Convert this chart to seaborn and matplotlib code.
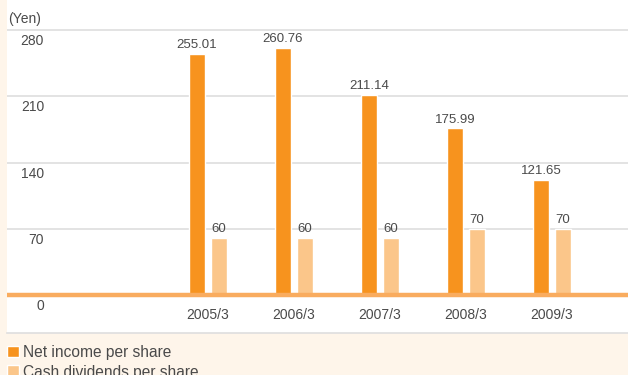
import matplotlib
matplotlib.use("Agg")
import matplotlib.pyplot as plt
import matplotlib.transforms as mtransforms
from matplotlib.patches import Patch
import pandas as pd
import seaborn as sns

# Per-share figures by fiscal year (Yen)
years = ["2005/3", "2006/3", "2007/3", "2008/3", "2009/3"]
net_income = [255.01, 260.76, 211.14, 175.99, 121.65]
dividends = [60, 60, 60, 70, 70]
series_names = ["Net income per share", "Cash dividends per share"]
y_ticks = [0, 70, 140, 210, 280]

ORANGE = "#F7931E"
LIGHT = "#FBC68A"
BASE = "#F9AC5F"
CREAM = "#FEF5EA"
GRID = "#DEDEDE"
TEXT = "#4A4A4A"

df = pd.DataFrame({
    "year": years * 2,
    "value": net_income + dividends,
    "series": [series_names[0]] * len(years) + [series_names[1]] * len(years),
})

sns.set_style("white")
plt.rcParams["font.family"] = ["Liberation Sans", "DejaVu Sans"]

W, H = 628, 375
fig = plt.figure(figsize=(W / 100, H / 100), dpi=100, facecolor=CREAM)

# white chart panel
left_px, bottom_px = 7, 333
ax = fig.add_axes([left_px / W, (H - bottom_px) / H, (W - left_px) / W, bottom_px / H])
ax.set_facecolor("white")

sns.barplot(data=df, x="year", y="value", hue="series", order=years,
            hue_order=series_names, palette=[ORANGE, LIGHT],
            width=0.51, gap=0.27, saturation=1, ax=ax, legend=False)

# pixel geometry: 280 at y=30px, 0 at y=295px
px_per_unit = (295 - 30) / 280
ax.set_ylim(-(bottom_px - 295) / px_per_unit, 280 + 30 / px_per_unit)
ax.set_xlim(-(208 - left_px) / 86, 4 + (W - 552) / 86)

for s in ["top", "right", "left"]:
    ax.spines[s].set_visible(False)
ax.spines["bottom"].set_color(GRID)
ax.spines["bottom"].set_linewidth(1.2)
ax.set_xticks([])
ax.set_yticks([])
ax.set_xlabel("")
ax.set_ylabel("")

for v in y_ticks[1:]:
    ax.axhline(v, color=GRID, lw=1.2, zorder=0)
ax.axhline(0, color=BASE, lw=3.2, zorder=3)

# y tick labels sit just below their grid lines
lab_tr = mtransforms.blended_transform_factory(fig.transFigure, ax.transData)
off = mtransforms.ScaledTranslation(0, -11 / 100, fig.dpi_scale_trans)
for v in y_ticks:
    ax.text(44 / W, v, str(v), transform=lab_tr + off, ha="right", va="center",
            fontsize=10, color=TEXT)

# year labels under the baseline
xl_tr = mtransforms.blended_transform_factory(ax.transData, ax.transAxes)
for i, y in enumerate(years):
    ax.text(i, (bottom_px - 315) / bottom_px, y, transform=xl_tr,
            ha="center", va="center", fontsize=10, color=TEXT)

ax.bar_label(ax.containers[0], labels=[f"{v:.2f}" for v in net_income],
             padding=2, fontsize=9.5, color=TEXT)
ax.bar_label(ax.containers[1], labels=[f"{v:.0f}" for v in dividends],
             padding=2, fontsize=9.5, color=TEXT)

fig.text(8 / W, 1 - 19 / H, "(Yen)", ha="left", va="center", fontsize=10, color=TEXT)

handles = [Patch(facecolor=ORANGE), Patch(facecolor=LIGHT)]
fig.legend(handles, series_names, loc="upper left",
           bbox_to_anchor=(-4 / W, 1 - 334 / H), frameon=False,
           fontsize=11.2, handlelength=0.75, handleheight=0.75,
           handletextpad=0.3, labelspacing=0.3, borderpad=0.2,
           labelcolor=TEXT)

fig.savefig("out.png", dpi=100, facecolor=CREAM)
